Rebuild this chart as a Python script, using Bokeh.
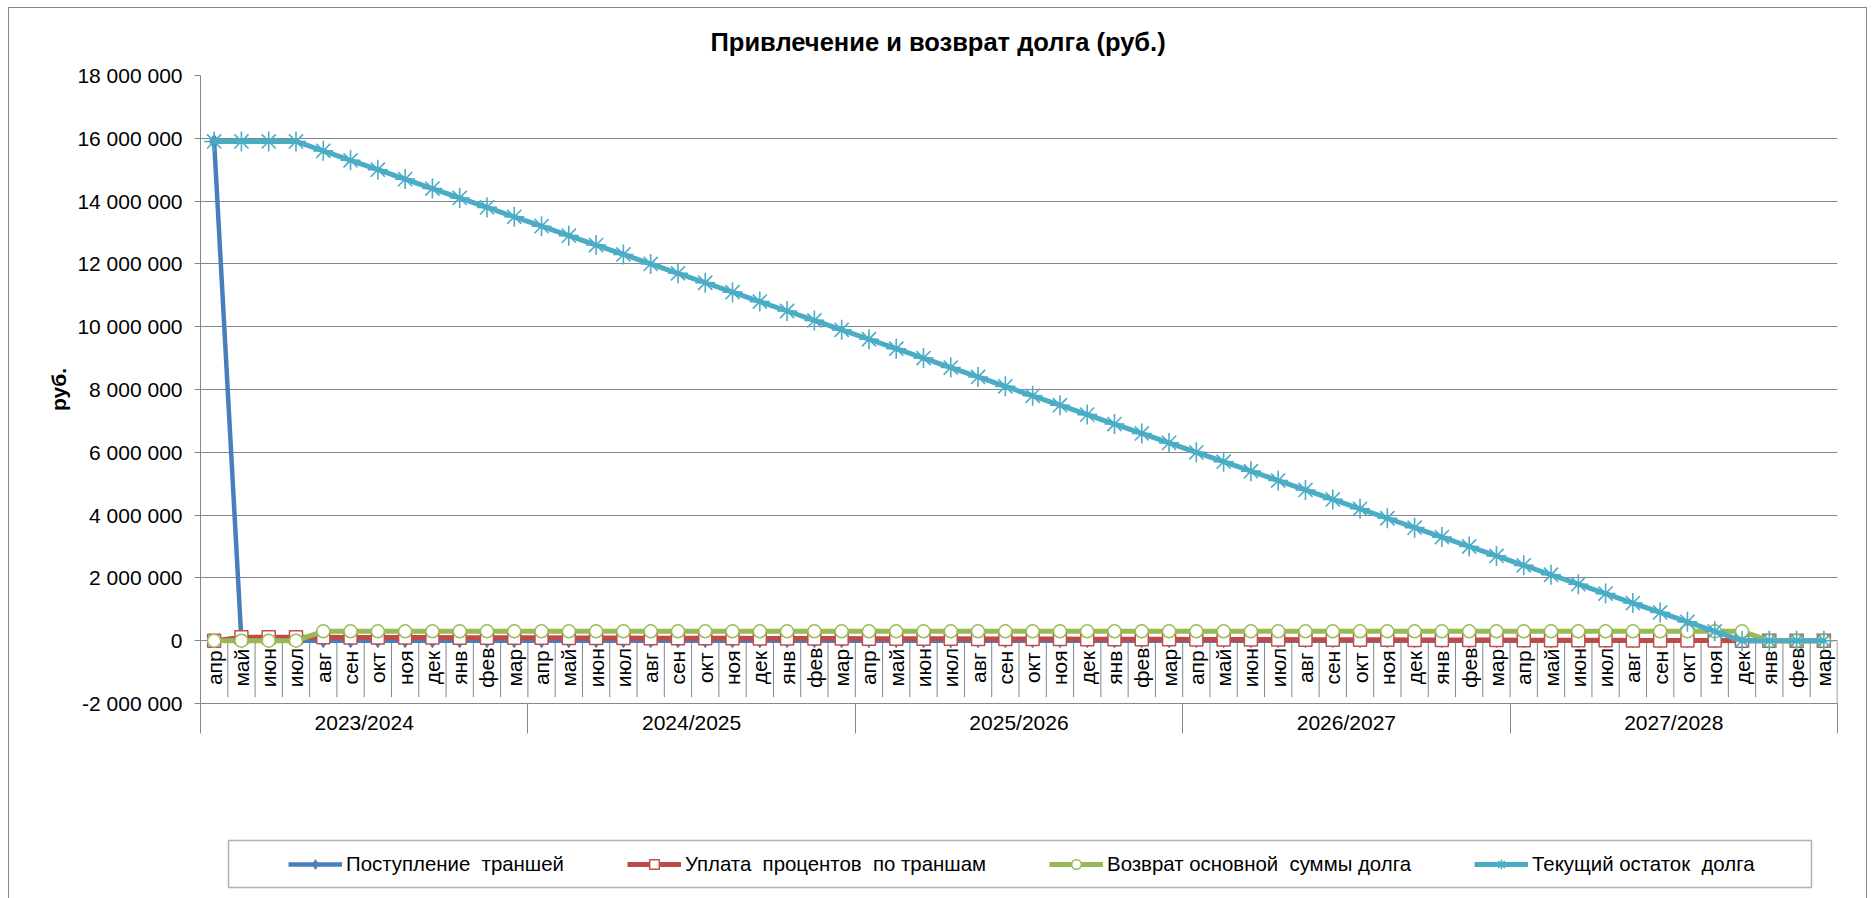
import math
from bokeh.plotting import figure
from bokeh.layouts import column
from bokeh.models import (Range1d, FixedTicker, Legend, LegendItem,
                          BoxAnnotation, ColumnDataSource)
from bokeh.core.properties import value
from bokeh.embed import file_html
from bokeh.resources import INLINE

# ---------------- data ----------------
month_names = ["апр", "май", "июн", "июл", "авг", "сен", "окт", "ноя", "дек", "янв", "фев", "мар"]
years = ["2023/2024", "2024/2025", "2025/2026", "2026/2027", "2027/2028"]

tranches = [15900000, 0, 0, 0, 0, 0, 0, 0, 0, 0, 0, 0,
            0, 0, 0, 0, 0, 0, 0, 0, 0, 0, 0, 0,
            0, 0, 0, 0, 0, 0, 0, 0, 0, 0, 0, 0,
            0, 0, 0, 0, 0, 0, 0, 0, 0, 0, 0, 0,
            0, 0, 0, 0, 0, 0, 0, 0, 0, 0, 0, 0]

interest = [0, 106000, 106000, 106000, 106000, 104000, 102000, 100000, 98000, 96000, 94000, 92000,
            90000, 88000, 86000, 84000, 82000, 80000, 78000, 76000, 74000, 72000, 70000, 68000,
            66000, 64000, 62000, 60000, 58000, 56000, 54000, 52000, 50000, 48000, 46000, 44000,
            42000, 40000, 38000, 36000, 34000, 32000, 30000, 28000, 26000, 24000, 22000, 20000,
            18000, 16000, 14000, 12000, 10000, 8000, 6000, 4000, 2000, 0, 0, 0]

principal = [0, 0, 0, 0, 300000, 300000, 300000, 300000, 300000, 300000, 300000, 300000,
             300000, 300000, 300000, 300000, 300000, 300000, 300000, 300000, 300000, 300000, 300000, 300000,
             300000, 300000, 300000, 300000, 300000, 300000, 300000, 300000, 300000, 300000, 300000, 300000,
             300000, 300000, 300000, 300000, 300000, 300000, 300000, 300000, 300000, 300000, 300000, 300000,
             300000, 300000, 300000, 300000, 300000, 300000, 300000, 300000, 300000, 0, 0, 0]

balance = [15900000, 15900000, 15900000, 15900000, 15600000, 15300000, 15000000, 14700000, 14400000, 14100000, 13800000, 13500000,
           13200000, 12900000, 12600000, 12300000, 12000000, 11700000, 11400000, 11100000, 10800000, 10500000, 10200000, 9900000,
           9600000, 9300000, 9000000, 8700000, 8400000, 8100000, 7800000, 7500000, 7200000, 6900000, 6600000, 6300000,
           6000000, 5700000, 5400000, 5100000, 4800000, 4500000, 4200000, 3900000, 3600000, 3300000, 3000000, 2700000,
           2400000, 2100000, 1800000, 1500000, 1200000, 900000, 600000, 300000, 0, 0, 0, 0]

series_names = ["Поступление  траншей", "Уплата  процентов  по траншам",
                "Возврат основной  суммы долга", "Текущий остаток  долга"]

ytick_values = [-2000000, 0, 2000000, 4000000, 6000000, 8000000, 10000000,
                12000000, 14000000, 16000000, 18000000]
ytick_labels = ["-2 000 000", "0", "2 000 000", "4 000 000", "6 000 000", "8 000 000",
                "10 000 000", "12 000 000", "14 000 000", "16 000 000", "18 000 000"]

title_text = "Привлечение и возврат долга (руб.)"
y_title = "руб."

# ---------------- derived ----------------
n = len(month_names) * len(years)
month_labels = [month_names[i % 12] for i in range(n)]
xs = [i + 0.5 for i in range(n)]

FONT = "Liberation Sans"
GRID = "#868686"
BLUE, RED, GREEN, AQUA = "#4A7EBB", "#BE4B48", "#98B954", "#4BACC6"
W = 1857
BL, BR = 191, 29          # side borders -> frame spans page x 200..1837

p = figure(width=W, height=800,
           x_range=Range1d(0, n), y_range=Range1d(ytick_values[0], ytick_values[-1]),
           output_backend="svg", toolbar_location=None,
           min_border_left=BL, min_border_right=BR, min_border_top=66, min_border_bottom=105,
           outline_line_color=None, background_fill_color=None, border_fill_color=None)

# title
p.title.text = title_text
p.title.align = "left"
p.title.offset = 510
p.title.standoff = 37
p.title.vertical_align = "middle"
p.title.text_font = FONT
p.title.text_font_size = "25.5px"
p.title.text_font_style = "bold"
p.title.text_color = "black"

# grid
p.xgrid.grid_line_color = None
p.ygrid.grid_line_color = GRID
p.ygrid.ticker = FixedTicker(ticks=ytick_values)

# y axis
ya = p.yaxis[0]
ya.ticker = FixedTicker(ticks=ytick_values)
ya.major_label_overrides = {v: s for v, s in zip(ytick_values, ytick_labels)}
ya.axis_line_color = GRID
ya.major_tick_line_color = GRID
ya.major_tick_out = 6
ya.major_tick_in = 0
ya.minor_tick_line_color = None
ya.major_label_standoff = 12
ya.major_label_text_font = FONT
ya.major_label_text_font_size = "21px"
ya.major_label_text_color = "black"
ya.axis_label = y_title
ya.axis_label_text_font = FONT
ya.axis_label_text_font_size = "21px"
ya.axis_label_text_font_style = "bold"
ya.axis_label_text_color = "black"
ya.axis_label_standoff = 4

# x axis: year groups
year_centers = [12 * k + 6 for k in range(len(years))]
year_bounds = [12 * k for k in range(len(years) + 1)]
xa = p.xaxis[0]
xa.ticker = FixedTicker(ticks=year_centers, minor_ticks=year_bounds)
xa.major_label_overrides = {c: y for c, y in zip(year_centers, years)}
xa.axis_line_color = GRID
xa.major_tick_line_color = None
xa.major_tick_out = 0
xa.major_tick_in = 0
xa.minor_tick_line_color = GRID
xa.minor_tick_out = 30
xa.minor_tick_in = 0
xa.major_label_standoff = -23
xa.major_label_text_font = FONT
xa.major_label_text_font_size = "21px"
xa.major_label_text_color = "black"

# month separators and labels
sep_x = list(range(1, n))
p.segment(x0=sep_x, x1=sep_x, y0=[0] * len(sep_x), y1=[-1800000] * len(sep_x),
          line_color=GRID, line_width=1)
p.segment(x0=[n], x1=[n], y0=[0], y1=[ytick_values[0]], line_color=GRID, line_width=1.5)
p.text(x=xs, y=[0] * n, text=month_labels, angle=math.pi / 2, y_offset=27,
       text_align="center", text_baseline="middle",
       text_font=value(FONT), text_font_size="21px", text_color="black")

# series
src = ColumnDataSource(dict(x=xs, t=tranches, i=interest, pr=principal, b=balance))
styles = [
    dict(col="t", lc=BLUE, lw=4.5, marker="diamond", size=14, fill="#4F81BD", mlc=BLUE, mlw=1),
    dict(col="i", lc=RED, lw=5, marker="square", size=13, fill="white", mlc="#C0504D", mlw=1.5),
    dict(col="pr", lc=GREEN, lw=5, marker="circle", size=13, fill="white", mlc="#9BBB59", mlw=1.5),
    dict(col="b", lc=AQUA, lw=5, marker="asterisk", size=20, fill=None, mlc=AQUA, mlw=1.6),
]
for s in styles:
    p.line("x", s["col"], source=src, line_color=s["lc"], line_width=s["lw"])
    p.scatter("x", s["col"], source=src, marker=s["marker"], size=s["size"],
              fill_color=s["fill"], line_color=s["mlc"], line_width=s["mlw"])

# ---------------- legend strip (frame aligned with the chart frame) ----------------
q = figure(width=W, height=90, x_range=Range1d(200, 1837), y_range=Range1d(90, 0),
           output_backend="svg", toolbar_location=None,
           min_border_left=BL, min_border_right=BR, min_border_top=0, min_border_bottom=0,
           x_axis_type=None, y_axis_type=None, outline_line_color=None,
           background_fill_color=None, border_fill_color=None)
q.grid.visible = False
items = []
for name, s in zip(series_names, styles):
    lr = q.line(x=[0, 10], y=[-20, -20], line_color=s["lc"], line_width=s["lw"])
    mr = q.scatter(x=[5], y=[-20], marker=s["marker"], size=s["size"],
                   fill_color=s["fill"], line_color=s["mlc"], line_width=s["mlw"])
    items.append(LegendItem(label=name, renderers=[lr, mr]))
legend = Legend(items=items, orientation="horizontal", location=(88, 22),
                glyph_width=54, glyph_height=24, label_height=24, label_standoff=4, spacing=63,
                padding=0, margin=0, border_line_color=None, background_fill_alpha=0,
                label_text_font=FONT, label_text_font_size="20.4px", label_text_color="black")
q.add_layout(legend)
q.add_layout(BoxAnnotation(left=228, right=1811, top=32, bottom=79,
                           fill_alpha=0, line_color="black", line_width=1.5))

layout = column(p, q, styles={"margin-left": "8px", "margin-top": "7px",
                              "border-left": "1px solid #868686",
                              "border-top": "1px solid #868686",
                              "border-right": "1px solid #868686"})

open("out.html", "w").write(file_html(layout, INLINE))
